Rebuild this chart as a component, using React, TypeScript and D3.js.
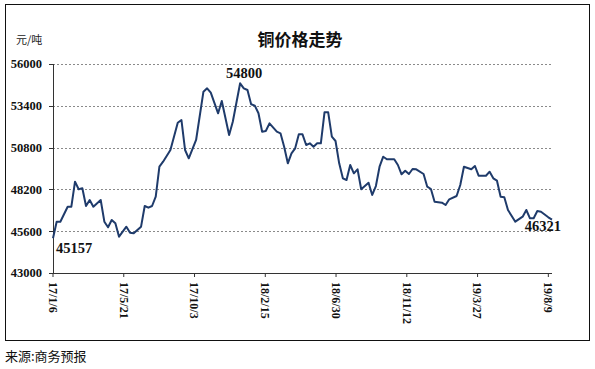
import * as React from 'react';
import * as d3 from 'd3';

// weekly copper price, weeks counted from 2017-01-06
const startDate = new Date(2017, 0, 6);
const weeks = [
  0, 1, 2, 4, 5, 6, 7, 8, 9, 10,
  11, 13, 14, 15, 16, 17, 18, 20, 21, 22,
  24, 25, 26, 27, 28, 29, 30, 32, 34, 35,
  36, 37, 39, 41, 42, 43, 45, 46, 48, 49,
  51, 52, 53, 54, 55, 56, 57, 58, 59, 61,
  62, 63, 64, 65, 66, 67, 68, 69, 70, 71,
  72, 73, 74, 75, 76, 77, 78, 79, 80, 81,
  82, 83, 84, 86, 87, 88, 89, 90, 91, 93,
  94, 95, 96, 97, 98, 99, 101, 102, 103, 104,
  106, 107, 108, 110, 111, 112, 114, 115, 116, 118,
  119, 120, 121, 122, 123, 124, 126, 128, 129, 130,
  131, 132, 133, 135, 136,
];
const prices = [
  45157, 46191, 46190, 47124, 47124, 48680, 48206, 48268, 47167, 47540,
  47124, 47540, 46191, 45842, 46297, 46090, 45258, 45880, 45507, 45469,
  45880, 47167, 47062, 47167, 47746, 49612, 49923, 50650, 52349, 52517,
  50650, 50135, 51273, 54277, 54488, 54215, 52933, 53698, 51584, 52411,
  54800, 54488, 54383, 53493, 53408, 52933, 51789, 51832, 52311, 51789,
  51689, 50856, 49823, 50445, 50756, 51627, 51627, 50962, 51067, 50856,
  51067, 51067, 52996, 52996, 51478, 51210, 49823, 48890, 48785, 49718,
  49201, 49450, 48206, 48617, 47852, 48411, 49612, 50234, 50072, 50072,
  49718, 49139, 49363, 49158, 49469, 49450, 49158, 48368, 48225, 47435,
  47373, 47230, 47584, 47789, 48474, 49612, 49450, 49655, 49052, 49052,
  49301, 48890, 48741, 47746, 47709, 46919, 46191, 46502, 46919, 46402,
  46402, 46856, 46813, 46464, 46321,
];
const yTicks = [43000, 45600, 48200, 50800, 53400, 56000];
const xTickLabels = ['17/1/6', '17/5/21', '17/10/3', '18/2/15', '18/6/30', '18/11/12', '19/3/27', '19/8/9'];

const title = '铜价格走势';
const unit = '元/吨';
const source = '来源:商务预报';

const width = 595;
const height = 369;
const left = 53;
const right = 552;
const top = 64;
const bottom = 273;

const serif = '"Liberation Serif", "Times New Roman", serif';
const cjk = '"Noto Sans CJK SC", sans-serif';

const parseTick = (s: string) => {
  const [yy, m, d] = s.split('/').map(Number);
  return new Date(2000 + yy, m - 1, d);
};

const App: React.FC = () => {
  const points = weeks.map((w, i) => ({ date: d3.timeDay.offset(startDate, w * 7), value: prices[i] }));
  const endDate = points[points.length - 1].date;

  const x = d3.scaleTime().domain([startDate, endDate]).range([left, right]);
  const y = d3.scaleLinear().domain([43000, 56000]).range([bottom, top]);

  const line = d3.line<{ date: Date; value: number }>()
    .x(d => x(d.date))
    .y(d => y(d.value));

  const first = points[0];
  const last = points[points.length - 1];
  const peak = points.reduce((a, b) => (b.value > a.value ? b : a));

  return (
    <svg width={width} height={height} style={{ position: 'absolute', left: 0, top: 0, background: '#fff' }}>
      <rect x={5.5} y={4.5} width={584} height={336} fill="#fff" stroke="#111" strokeWidth={1} />

      <text x={300} y={46} textAnchor="middle" fontFamily={cjk} fontWeight="bold" fontSize={17} fill="#111">{title}</text>
      <text x={16} y={44} fontFamily={cjk} fontSize={11} fill="#222">{unit}</text>

      {/* gridlines */}
      {yTicks.filter(t => t !== 43000).map(t => (
        <line key={t} x1={left} x2={right} y1={Math.round(y(t)) + 0.5} y2={Math.round(y(t)) + 0.5}
          stroke="#8a8a8a" strokeWidth={1} strokeDasharray="2,2" />
      ))}

      {/* y axis */}
      <line x1={left + 0.5} x2={left + 0.5} y1={top} y2={bottom} stroke="#333" strokeWidth={1} />
      {yTicks.map(t => (
        <g key={t}>
          <line x1={left - 4} x2={left} y1={Math.round(y(t)) + 0.5} y2={Math.round(y(t)) + 0.5} stroke="#333" />
          <text x={42} y={y(t)} dy="0.35em" textAnchor="end" fontFamily={serif} fontWeight="bold" fontSize={12.5} fill="#111">{t}</text>
        </g>
      ))}

      {/* x axis */}
      <line x1={left} x2={right} y1={bottom + 0.5} y2={bottom + 0.5} stroke="#333" strokeWidth={1} />
      {xTickLabels.map(lbl => {
        const xp = x(parseTick(lbl));
        return (
          <g key={lbl}>
            <line x1={xp} x2={xp} y1={bottom} y2={bottom + 4} stroke="#333" />
            <text transform={`translate(${xp},${bottom + 9}) rotate(90)`} dy="0.35em"
              fontFamily={serif} fontWeight="bold" fontSize={12} fill="#111">{lbl}</text>
          </g>
        );
      })}

      <path d={line(points) || undefined} fill="none" stroke="#1f3b6b" strokeWidth={2} strokeLinejoin="round" />

      <text x={x(first.date) + 3} y={y(first.value) + 15} fontFamily={serif} fontWeight="bold" fontSize={14.5} fill="#111">{first.value}</text>
      <text x={x(peak.date) + 4} y={y(peak.value) - 5} textAnchor="middle" fontFamily={serif} fontWeight="bold" fontSize={14.5} fill="#111">{peak.value}</text>
      <text x={x(last.date) + 9} y={y(last.value) + 11} textAnchor="end" fontFamily={serif} fontWeight="bold" fontSize={14.5} fill="#111">{last.value}</text>

      <text x={5} y={361} fontFamily={cjk} fontSize={13} fill="#111">{source}</text>
    </svg>
  );
};

export default App;
